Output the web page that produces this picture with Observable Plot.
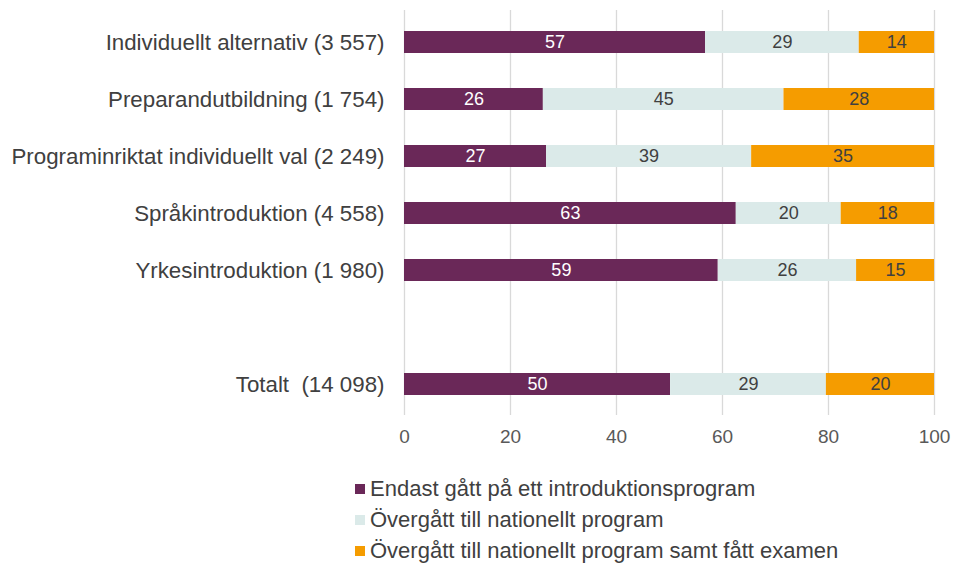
<!DOCTYPE html>
<html><head><meta charset="utf-8">
<script src="https://cdn.jsdelivr.net/npm/d3@7"></script>
<script src="https://cdn.jsdelivr.net/npm/@observablehq/plot@0.6"></script>
<style>
body{margin:0;background:#fff;font-family:"Liberation Sans",Arial,sans-serif;}
#legend{margin-left:355px;margin-top:18px;}
.item{display:flex;align-items:center;height:31px;font-size:22px;color:#404040;white-space:nowrap}
.sw{width:10px;height:10px;margin-right:5px;flex:none}
</style></head><body><div id="chart"></div><div id="legend"></div>
<script>
const categories = [
  "Individuellt alternativ (3 557)",
  "Preparandutbildning (1 754)",
  "Programinriktat individuellt val (2 249)",
  "Språkintroduktion (4 558)",
  "Yrkesintroduktion (1 980)",
  "spacer",
  "Totalt\u00a0 (14 098)"
];
const series = [
  "Endast gått på ett introduktionsprogram",
  "Övergått till nationellt program",
  "Övergått till nationellt program samt fått examen"
];
const endast   = [56.8, 26.2, 26.8, 62.6, 59.2, null, 50.2];
const overgatt = [29.0, 45.4, 38.7, 19.8, 26.1, null, 29.4];
const examen   = [14.2, 28.4, 34.5, 17.6, 14.7, null, 20.4];
const colors = ["#6a2858", "#dbeae9", "#f59c00"];
const xTicks = [0, 20, 40, 60, 80, 100];

const valuesBySeries = [endast, overgatt, examen];
const data = [];
categories.forEach((cat, i) => {
  if (cat === "spacer") return;
  valuesBySeries.forEach((vals, j) => {
    data.push({cat, series: series[j], si: j, value: vals[i]});
  });
});

const chart = Plot.plot({
  width: 953, height: 455,
  marginLeft: 404, marginRight: 19, marginTop: 10, marginBottom: 40,
  style: {fontFamily: '"Liberation Sans",Arial,sans-serif', background: "white"},
  x: {domain: [0, 100], ticks: xTicks},
  y: {domain: categories, paddingInner: 0.62, paddingOuter: 0.34},
  color: {type: "identity"},
  marks: [
    Plot.gridX(xTicks, {stroke: "#d9d9d9", strokeOpacity: 1, strokeWidth: 1.3}),
    Plot.barX(data, Plot.stackX({x: "value", y: "cat", z: "series", order: null, fill: d => colors[d.si]})),
    Plot.text(data, Plot.stackX({x: "value", y: "cat", z: "series", order: null,
      text: d => String(Math.round(d.value)),
      fill: d => d.si === 0 ? "white" : "#404040", fontSize: 18})),
    Plot.axisX({ticks: xTicks, tickSize: 0, tickPadding: 14, fontSize: 19, color: "#595959", label: null}),
    Plot.axisY({tickSize: 0, tickPadding: 20, fontSize: 22.3, color: "#404040", label: null,
      tickFormat: d => d === "spacer" ? "" : d})
  ]
});
document.getElementById("chart").appendChild(chart);

const legend = document.getElementById("legend");
series.forEach((s, j) => {
  const item = document.createElement("div");
  item.className = "item";
  const sw = document.createElement("span");
  sw.className = "sw";
  sw.style.background = colors[j];
  const t = document.createElement("span");
  t.textContent = s;
  item.appendChild(sw); item.appendChild(t);
  legend.appendChild(item);
});
</script></body></html>
